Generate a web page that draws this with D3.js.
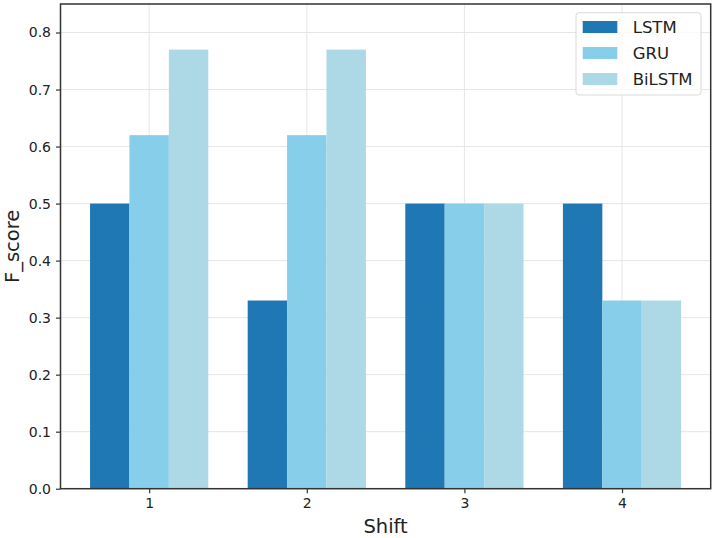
<!DOCTYPE html>
<html><head><meta charset="utf-8">
<script src="https://cdn.jsdelivr.net/npm/d3@7"></script>
<style>body{margin:0;background:#fff}svg{display:block;font-family:"DejaVu Sans",sans-serif}</style>
</head><body>
<svg id="c" width="715" height="538"></svg>
<script>
const categories = ["1", "2", "3", "4"];
const seriesNames = ["LSTM", "GRU", "BiLSTM"];
const lstmValues = [0.5, 0.33, 0.5, 0.5];
const gruValues = [0.62, 0.62, 0.5, 0.33];
const bilstmValues = [0.77, 0.77, 0.5, 0.33];
const yTicks = [0.0, 0.1, 0.2, 0.3, 0.4, 0.5, 0.6, 0.7, 0.8];
const colors = ["#1f77b4", "#87ceeb", "#add8e6"];
const series = [lstmValues, gruValues, bilstmValues];

const svg = d3.select("#c");
const L = 60.5, R = 710.7, T = 4, B = 488.7;
const barW = 0.25;
const x = d3.scaleLinear().domain([-0.5625, 3.5625]).range([L, R]);
const y = d3.scaleLinear().domain([0, 0.85]).range([B, T]);

// grid
const g = svg.append("g");
g.selectAll(".gy").data(yTicks).join("line")
  .attr("x1", L).attr("x2", R).attr("y1", d => y(d)).attr("y2", d => y(d))
  .attr("stroke", "#e6e6e6").attr("stroke-width", 1);
g.selectAll(".gx").data(categories).join("line")
  .attr("x1", (d, i) => x(i)).attr("x2", (d, i) => x(i)).attr("y1", T).attr("y2", B)
  .attr("stroke", "#e6e6e6").attr("stroke-width", 1);

// bars
series.forEach((vals, s) => {
  svg.append("g").selectAll("rect").data(vals).join("rect")
    .attr("x", (d, i) => x(i + (s - 1) * barW - barW / 2))
    .attr("width", x(barW) - x(0))
    .attr("y", d => y(d))
    .attr("height", d => y(0) - y(d))
    .attr("fill", colors[s]);
});

// axes
const ax = svg.append("g").attr("transform", `translate(0,${B})`)
  .call(d3.axisBottom(x).tickValues([0, 1, 2, 3]).tickFormat(i => categories[i]).tickSize(4.5).tickPadding(5));
const ay = svg.append("g").attr("transform", `translate(${L},0)`)
  .call(d3.axisLeft(y).tickValues(yTicks).tickFormat(d3.format(".1f")).tickSize(4.5).tickPadding(5));
[ax, ay].forEach(a => {
  a.select(".domain").remove();
  a.selectAll("text").attr("font-size", 14).attr("fill", "#222").attr("font-family", "DejaVu Sans");
  a.selectAll("line").attr("stroke", "#333").attr("stroke-width", 1.2);
});

// frame
svg.append("rect").attr("x", L).attr("y", T).attr("width", R - L).attr("height", B - T)
  .attr("fill", "none").attr("stroke", "#333").attr("stroke-width", 1.5);

// labels
svg.append("text").attr("x", (L + R) / 2).attr("y", 533).attr("text-anchor", "middle")
  .attr("font-size", 19.5).attr("fill", "#222").text("Shift");
svg.append("text").attr("transform", `translate(19,${(T + B) / 2}) rotate(-90)`).attr("text-anchor", "middle")
  .attr("font-size", 19.5).attr("fill", "#222").text("F_score");

// legend
const lg = svg.append("g");
lg.append("rect").attr("x", 576).attr("y", 12.7).attr("width", 125).attr("height", 82.3).attr("rx", 3)
  .attr("fill", "rgba(255,255,255,0.8)").attr("stroke", "#d9d9d9").attr("stroke-width", 1);
seriesNames.forEach((n, i) => {
  const cy = 27 + i * 26;
  lg.append("rect").attr("x", 582.7).attr("y", cy - 6).attr("width", 34.6).attr("height", 12).attr("fill", colors[i]);
  lg.append("text").attr("x", 632.7).attr("y", cy + 6).attr("font-size", 16.5).attr("fill", "#222").text(n);
});
</script>
</body></html>
